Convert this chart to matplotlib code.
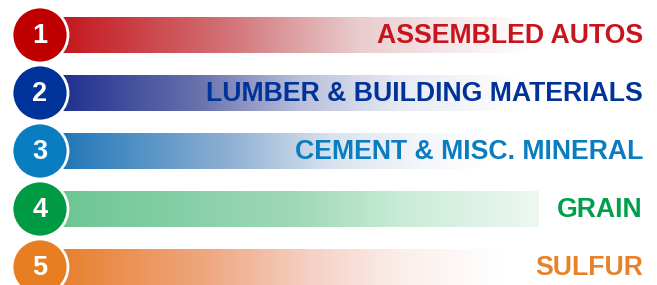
import matplotlib.pyplot as plt
import numpy as np
from matplotlib.patches import Circle
from matplotlib.colors import to_rgb

# rank list shown as numbered gradient strips
numbers = ["1", "2", "3", "4", "5"]
labels = ["ASSEMBLED AUTOS", "LUMBER & BUILDING MATERIALS",
          "CEMENT & MISC. MINERAL", "GRAIN", "SULFUR"]
circle_colors = ["#C00000", "#003399", "#0A7DC1", "#009A44", "#E87E22"]
text_colors = ["#C8141E", "#003399", "#0A7DC1", "#00A04B", "#E8822A"]

# colour stops of each fading strip (x in pixels, colour)
grad_stops = [
    [(60, "#C4161C"), (230, "#D27478"), (360, "#E9CDCF"), (450, "#F5E8E9"), (530, "#FFFFFF")],
    [(60, "#1E2F8F"), (200, "#6872AC"), (300, "#B9BFDA"), (400, "#E8EAF3"), (520, "#FFFFFF")],
    [(60, "#1F76B8"), (230, "#8FB0D3"), (330, "#D8E2EE"), (420, "#F3F6FA"), (490, "#FFFFFF")],
    [(60, "#6CC593"), (300, "#A0D9B8"), (400, "#C9EBD7"), (539, "#EEF8F2")],
    [(60, "#E8802E"), (210, "#EFA882"), (310, "#F5D0C4"), (400, "#FBEEEA"), (500, "#FFFFFF")],
]

W, H = 657, 285
fig = plt.figure(figsize=(W / 100, H / 100), dpi=100)
ax = fig.add_axes([0, 0, 1, 1])
ax.set_xlim(0, W)
ax.set_ylim(H, 0)
ax.axis("off")

row_y0 = 35
row_gap = 58
bar_h = 36
bar_x0, bar_x1 = 40, 539
cx, r = 40, 28

for i, (num, lab) in enumerate(zip(numbers, labels)):
    yc = row_y0 + i * row_gap
    # gradient strip built from the colour stops
    xs = np.arange(bar_x0, bar_x1) + 0.5
    sx = [s[0] for s in grad_stops[i]]
    sc = np.array([to_rgb(s[1]) for s in grad_stops[i]])
    img = np.ones((1, len(xs), 3))
    for ch in range(3):
        img[0, :, ch] = np.interp(xs, sx, sc[:, ch])
    ax.imshow(img, extent=[bar_x0, bar_x1, yc + bar_h / 2, yc - bar_h / 2],
              aspect="auto", interpolation="bilinear", zorder=1)
    # numbered circle
    ax.add_patch(Circle((cx, yc), r, facecolor=circle_colors[i],
                        edgecolor="white", linewidth=2, zorder=3))
    ax.text(cx, yc + 1, num, color="white", fontsize=19.5, fontweight="bold",
            family="Liberation Sans", ha="center", va="center", zorder=4)
    ax.text(643, yc + 1, lab, color=text_colors[i], fontsize=19.2,
            fontweight="bold", family="Liberation Sans",
            ha="right", va="center", zorder=4)

ax.set_xlim(0, W)
ax.set_ylim(H, 0)
fig.savefig("out.png", dpi=100)
